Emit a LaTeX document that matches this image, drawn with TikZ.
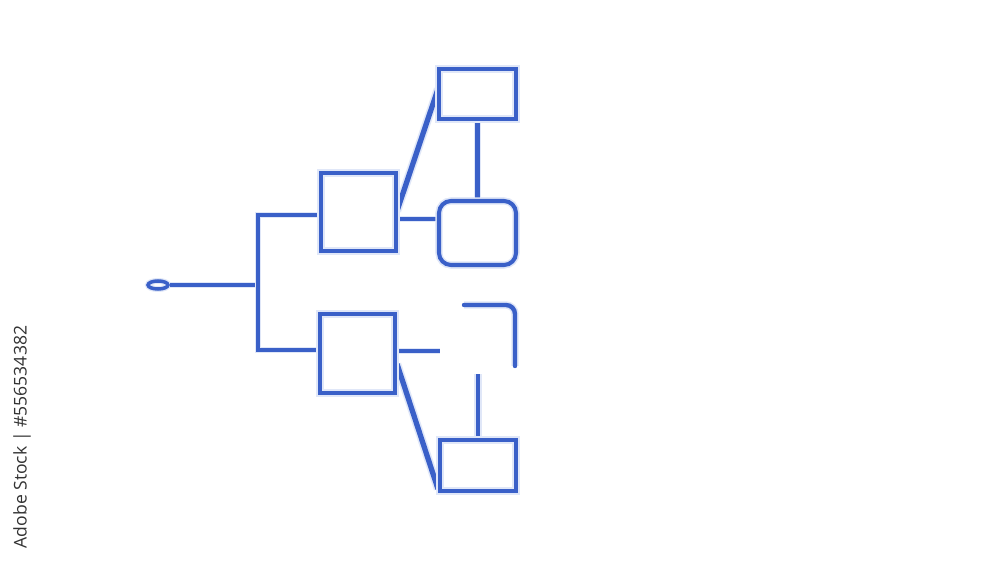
\documentclass[tikz,border=0pt]{standalone}
\usepackage{fontspec}
\usetikzlibrary{shapes.geometric}
\newfontfamily\wmfont{Open Sans}
\definecolor{dblue}{RGB}{58,96,200}
\definecolor{glowblue}{RGB}{224,231,248}
\begin{document}
\begin{tikzpicture}[x=0.02cm,y=-0.02cm,
  glow/.style={preaction={draw=glowblue,line width=#1}},
  box/.style={draw=dblue,line width=2.3pt,inner sep=0pt,fill=white,glow=4pt},
  wire/.style={draw=dblue,line width=1.8pt,glow=3.6pt},
  thick wire/.style={draw=dblue,line width=2.5pt,glow=4.2pt},
  diag/.style={draw=dblue,line width=3pt,glow=4.8pt}]
\useasboundingbox[fill=white] (0,0) rectangle (1000,563);

% terminal
\node[draw=dblue,line width=2pt,glow=3.4pt,ellipse,minimum width=20*0.02cm,minimum height=8*0.02cm,inner sep=0pt] (term) at (158,285) {};

% boxes
\node[box,minimum width=75*0.02cm,minimum height=78*0.02cm] (A) at (358.5,212) {};
\node[box,minimum width=75*0.02cm,minimum height=79*0.02cm] (B) at (357.5,353.5) {};
\node[box,minimum width=77*0.02cm,minimum height=50*0.02cm] (TR) at (477.5,94) {};
\node[box,rounded corners=12*0.02cm,minimum width=77*0.02cm,minimum height=64*0.02cm] (R) at (477.5,233) {};
\node[box,minimum width=76*0.02cm,minimum height=51*0.02cm] (C) at (478,465.5) {};

% junction coordinates
\coordinate (j) at (258,285);
\coordinate (jt) at (258,215);
\coordinate (jb) at (258,350);
\coordinate (ad1) at (397,211);
\coordinate (ad2) at (438,89);
\coordinate (ar) at (396,219);
\coordinate (bs) at (396,351);
\coordinate (bstub) at (440,351);
\coordinate (bd1) at (397,364);
\coordinate (bd2) at (438,489);
\coordinate (cv) at (478,374);
\coordinate (hk1) at (464,305);
\coordinate (hk2) at (515,366);

% connectors
\draw[wire] (term.east) -- (j);
\draw[wire,line width=2.1pt,line join=miter] (jt -| A.west) -- (jt) -- (jb) -- (jb -| B.west);
\draw[diag] (ad1) -- (ad2);
\draw[wire] (ar) -- (ar -| R.west);
\draw[thick wire] (TR.south) -- (R.north);
\draw[wire] (bs) -- (bstub);
\draw[diag] (bd1) -- (bd2);
\draw[thick wire] (C.north) -- (cv);
\draw[thick wire,line cap=round,rounded corners=9*0.02cm] (hk1) -| (hk2);

% redraw box outlines on top of connectors
\node[box,minimum width=75*0.02cm,minimum height=78*0.02cm,fill=none] (A2) at (A) {};
\node[box,minimum width=75*0.02cm,minimum height=79*0.02cm,fill=none] (B2) at (B) {};
\node[box,minimum width=77*0.02cm,minimum height=50*0.02cm,fill=none] (TR2) at (TR) {};
\node[box,rounded corners=12*0.02cm,minimum width=77*0.02cm,minimum height=64*0.02cm,fill=none] (R2) at (R) {};
\node[box,minimum width=76*0.02cm,minimum height=51*0.02cm,fill=none] (C2) at (C) {};

% stock label
\node[rotate=90,text=black!80,font=\wmfont\fontsize{10}{12}\selectfont] (wm) at (22,437) {Adobe Stock | \#556534382};
\end{tikzpicture}
\end{document}
